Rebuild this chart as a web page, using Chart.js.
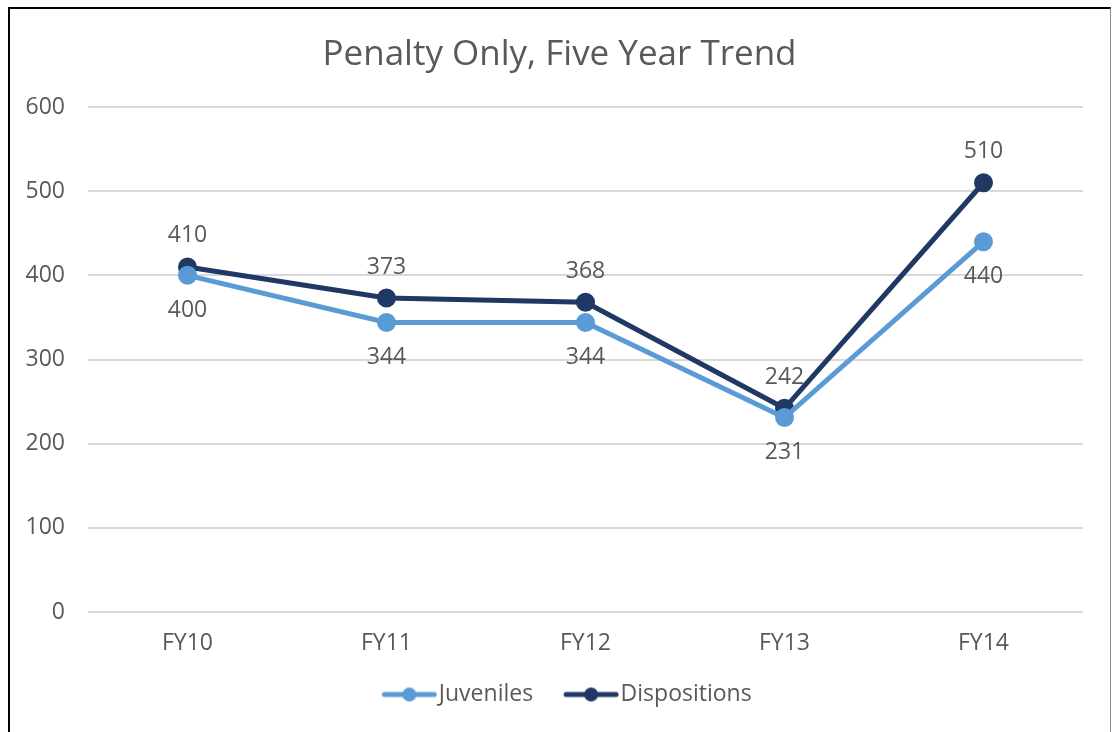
<!DOCTYPE html>
<html>
<head>
<meta charset="utf-8">
<script src="https://cdn.jsdelivr.net/npm/chart.js@4/dist/chart.umd.min.js"></script>
<style>
  html, body { margin: 0; padding: 0; background: #fff; overflow: hidden; }
  #frame { position: absolute; left: 8px; top: 7px; width: 1100px; height: 760px;
           border-left: 2px solid #000; border-top: 2px solid #000; border-right: 1px solid #8a8a8a; }
  #wrap { position: absolute; left: 0; top: 0; width: 1100px; height: 723px; }
</style>
</head>
<body>
<div id="frame"><div id="wrap"><canvas id="c"></canvas></div></div>
<script>
const categories = ['FY10', 'FY11', 'FY12', 'FY13', 'FY14'];
const juveniles = [400, 344, 344, 231, 440];
const dispositions = [410, 373, 368, 242, 510];
const yTicks = [0, 100, 200, 300, 400, 500, 600];
const titleText = 'Penalty Only, Five Year Trend';

const FONT = '"Open Sans", sans-serif';
const TXT = '#595959';

// legend swatch: line with a dot, drawn in the right 56px of a 76px image
function legendIcon(color) {
  const c = document.createElement('canvas');
  c.width = 76; c.height = 18;
  const g = c.getContext('2d');
  g.strokeStyle = color; g.lineWidth = 5; g.lineCap = 'round';
  g.beginPath(); g.moveTo(23, 9); g.lineTo(73, 9); g.stroke();
  g.fillStyle = color; g.beginPath(); g.arc(48, 9, 7, 0, Math.PI * 2); g.fill();
  return c;
}

const labelPlugin = {
  id: 'valueLabels',
  afterDatasetsDraw(chart) {
    const ctx = chart.ctx;
    ctx.save();
    ctx.font = '23px ' + FONT;
    ctx.fillStyle = TXT;
    ctx.textAlign = 'center';
    ctx.textBaseline = 'middle';
    chart.data.datasets.forEach((ds, i) => {
      const meta = chart.getDatasetMeta(i);
      meta.data.forEach((pt, j) => {
        ctx.fillText(String(ds.data[j]), pt.x, pt.y + ds.labelOffset);
      });
    });
    ctx.restore();
  }
};

const shiftPlugin = {
  id: 'shiftBoxes',
  afterLayout(chart) {
    if (chart.titleBlock) { chart.titleBlock.left += 8; chart.titleBlock.right += 8; }
    if (chart.legend) { chart.legend.left += 10; chart.legend.right += 10; }
  }
};

new Chart(document.getElementById('c'), {
  type: 'line',
  data: {
    labels: categories,
    datasets: [
      { label: 'Juveniles', data: juveniles, borderColor: '#5B9BD5', backgroundColor: '#5B9BD5',
        borderWidth: 5, pointRadius: 7, pointHoverRadius: 7, pointStyle: 'circle',
        legendIcon: legendIcon('#5B9BD5'), labelOffset: 35, tension: 0 },
      { label: 'Dispositions', data: dispositions, borderColor: '#203864', backgroundColor: '#203864',
        borderWidth: 5, pointRadius: 7, pointHoverRadius: 7, pointStyle: 'circle',
        legendIcon: legendIcon('#203864'), labelOffset: -31, tension: 0 }
    ]
  },
  options: {
    responsive: true,
    maintainAspectRatio: false,
    animation: false,
    events: [],
    layout: { padding: { left: 10, right: 27, top: 0, bottom: 16 } },
    plugins: {
      title: { display: true, text: titleText, color: TXT,
               font: { family: FONT, size: 35, weight: 'normal' }, padding: { top: 25, bottom: 31 } },
      legend: { position: 'bottom',
                labels: { usePointStyle: true, pointStyleWidth: 56, color: TXT, padding: 20,
                          font: { family: FONT, size: 23 },
                          generateLabels(chart) {
                            const items = Chart.defaults.plugins.legend.labels.generateLabels(chart);
                            items.forEach(it => { it.pointStyle = chart.data.datasets[it.datasetIndex].legendIcon; });
                            return items;
                          } } },
      tooltip: { enabled: false }
    },
    scales: {
      x: {
        offset: true,
        afterFit(s) { s.height = 51; },
        grid: { display: false },
        border: { display: false },
        ticks: { color: TXT, font: { family: FONT, size: 23 }, padding: 10 }
      },
      y: {
        min: 0, max: 600,
        afterBuildTicks(s) { s.ticks = yTicks.map(v => ({ value: v })); },
        afterFit(s) { s.width = 68; },
        grid: { color: '#d9d9d9', lineWidth: 2, drawTicks: false },
        border: { display: false },
        ticks: { color: TXT, font: { family: FONT, size: 23 }, padding: 23 }
      }
    }
  },
  plugins: [labelPlugin, shiftPlugin]
});
</script>
</body>
</html>
